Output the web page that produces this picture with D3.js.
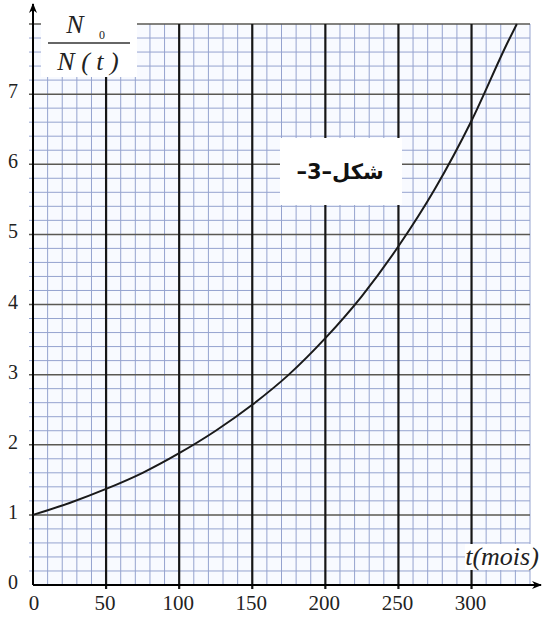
<!DOCTYPE html>
<html>
<head>
<meta charset="utf-8">
<script src="https://cdn.jsdelivr.net/npm/d3@7"></script>
<style>
  body { margin: 0; background: #fff; }
  svg { display: block; }
  .serif { font-family: "Liberation Serif", "Times New Roman", "DejaVu Serif", serif; }
</style>
</head>
<body>
<svg id="chart" width="544" height="617"></svg>
<script>
var tValues = [0, 25, 50, 75, 100, 125, 150, 175, 200, 225, 250, 275, 300, 325, 331];
var ratioValues = [1.0, 1.17, 1.37, 1.60, 1.88, 2.20, 2.57, 3.0, 3.52, 4.12, 4.83, 5.65, 6.62, 7.75, 8.0];
var xTicks = [0, 50, 100, 150, 200, 250, 300];
var yTicks = [0, 1, 2, 3, 4, 5, 6, 7];

var svg = d3.select("#chart");
var x = d3.scaleLinear().domain([0, 340]).range([33, 530]);
var y = d3.scaleLinear().domain([0, 8]).range([585, 24]);

var grid = svg.append("g").attr("class", "grid");

// fond legerement bleute
grid.append("rect")
  .attr("x", x(0)).attr("y", y(8))
  .attr("width", x(340) - x(0)).attr("height", y(0) - y(8))
  .attr("fill", "#f8faff");

// lignes fines tous les 10 mois
grid.selectAll("line.vminor")
  .data(d3.range(0, 341, 10).filter(function(d){ return d % 50 != 0 }))
  .enter().append("line")
  .attr("class", "vminor")
  .attr("x1", function(d){ return x(d) }).attr("x2", function(d){ return x(d) })
  .attr("y1", y(0)).attr("y2", y(8))
  .attr("stroke", "#95a3cf").attr("stroke-width", 1);

// lignes fines tous les 0.2
grid.selectAll("line.hminor")
  .data(d3.range(0, 41).map(function(i){ return i / 5 }).filter(function(d, i){ return i % 5 != 0 }))
  .enter().append("line")
  .attr("class", "hminor")
  .attr("x1", x(0) - 4).attr("x2", x(340))
  .attr("y1", function(d){ return y(d) }).attr("y2", function(d){ return y(d) })
  .attr("stroke", "#95a3cf").attr("stroke-width", 1);

// lignes des unites
grid.selectAll("line.hmajor")
  .data(d3.range(1, 9))
  .enter().append("line")
  .attr("class", "hmajor")
  .attr("x1", x(0) - 4).attr("x2", x(340))
  .attr("y1", function(d){ return y(d) }).attr("y2", function(d){ return y(d) })
  .attr("stroke", "#5a5853").attr("stroke-width", 1.5);

// lignes epaisses tous les 50 mois
grid.selectAll("line.vmajor")
  .data(xTicks.filter(function(d){ return d > 0 }))
  .enter().append("line")
  .attr("class", "vmajor")
  .attr("x1", function(d){ return x(d) }).attr("x2", function(d){ return x(d) })
  .attr("y1", y(0) + 4).attr("y2", y(8))
  .attr("stroke", "#161616").attr("stroke-width", 2.2);

// axes avec fleches
svg.append("defs").append("marker")
  .attr("id", "arrow").attr("viewBox", "0 0 10 10")
  .attr("refX", 9).attr("refY", 5)
  .attr("markerWidth", 5).attr("markerHeight", 5)
  .attr("orient", "auto")
  .append("path").attr("d", "M0,1 L10,5 L0,9 L3,5 Z").attr("fill", "#000");

svg.append("line")
  .attr("x1", x(0)).attr("x2", 541).attr("y1", y(0)).attr("y2", y(0))
  .attr("stroke", "#000").attr("stroke-width", 2)
  .attr("marker-end", "url(#arrow)");
svg.append("line")
  .attr("x1", x(0)).attr("x2", x(0)).attr("y1", y(0)).attr("y2", 4)
  .attr("stroke", "#000").attr("stroke-width", 2)
  .attr("marker-end", "url(#arrow)");

// etiquettes des graduations
svg.selectAll("text.xlab")
  .data(xTicks).enter().append("text")
  .attr("class", "xlab serif")
  .attr("x", function(d){ return x(d) + (d == 0 ? 1 : -1) })
  .attr("y", 610)
  .attr("text-anchor", "middle")
  .attr("font-size", 21)
  .attr("fill", "#222")
  .text(function(d){ return d });

svg.selectAll("text.ylab")
  .data(yTicks).enter().append("text")
  .attr("class", "ylab serif")
  .attr("x", 13)
  .attr("y", function(d){ return y(d) + 4 })
  .attr("text-anchor", "middle")
  .attr("font-size", 20)
  .attr("fill", "#222")
  .text(function(d){ return d });

// courbe
var line = d3.line()
  .x(function(d){ return x(d[0]) })
  .y(function(d){ return y(d[1]) })
  .curve(d3.curveMonotoneX);

svg.append("path")
  .datum(d3.zip(tValues, ratioValues))
  .attr("d", line)
  .attr("fill", "none")
  .attr("stroke", "#1a1a1a")
  .attr("stroke-width", 2);

// titre de l'axe y : N0 / N(t)
svg.append("rect")
  .attr("x", 41).attr("y", 18).attr("width", 96).attr("height", 59)
  .attr("fill", "#fff");
var ylab = svg.append("g")
  .attr("class", "serif")
  .attr("font-style", "italic")
  .attr("fill", "#222");
ylab.append("text").attr("x", 75).attr("y", 33).attr("text-anchor", "middle")
  .attr("font-size", 26).text("N");
ylab.append("text").attr("x", 102).attr("y", 39).attr("text-anchor", "middle")
  .attr("font-style", "normal").attr("font-size", 12).text("0");
ylab.append("line").attr("x1", 48).attr("x2", 130).attr("y1", 43).attr("y2", 43)
  .attr("stroke", "#333").attr("stroke-width", 1.5);
ylab.append("text").attr("x", 88).attr("y", 70).attr("text-anchor", "middle")
  .attr("font-size", 26).text("N ( t )");

// titre de l'axe x
svg.append("rect")
  .attr("x", 465).attr("y", 544).attr("width", 75).attr("height", 26)
  .attr("fill", "#fff");
svg.append("text")
  .attr("class", "serif")
  .attr("x", 502).attr("y", 565)
  .attr("text-anchor", "middle")
  .attr("font-style", "italic")
  .attr("font-size", 26)
  .attr("fill", "#222")
  .text("t(mois)");

// cadre de la figure
svg.append("rect")
  .attr("x", 280).attr("y", 138).attr("width", 122).attr("height", 67)
  .attr("fill", "#fff");
svg.append("text")
  .attr("x", 340).attr("y", 179)
  .attr("text-anchor", "middle")
  .attr("direction", "rtl")
  .attr("font-family", "DejaVu Sans, sans-serif")
  .attr("font-weight", "bold")
  .attr("font-size", 21)
  .attr("fill", "#111")
  .text("شكل–3–");
</script>
</body>
</html>
